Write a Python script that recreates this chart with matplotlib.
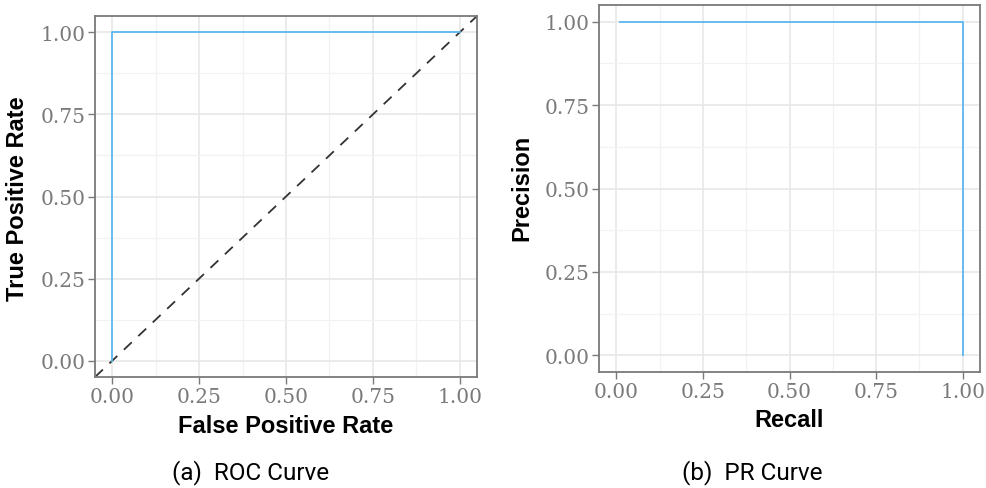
import matplotlib
matplotlib.use("Agg")
import matplotlib.pyplot as plt
import numpy as np

# ---------- Data ----------
fpr = [0.0, 0.0, 1.0]
tpr = [0.0, 1.0, 1.0]

recall = [0.01, 1.0, 1.0]
precision = [1.0, 1.0, 0.0]

ticks = [0.0, 0.25, 0.5, 0.75, 1.0]
tick_labels = ["0.00", "0.25", "0.50", "0.75", "1.00"]
minor_ticks = [0.125, 0.375, 0.625, 0.875]

curve_color = "#5BB8EC"
spine_color = "#7a7a7a"
W, H = 987, 489

fig = plt.figure(figsize=(W / 100, H / 100), dpi=100)


def px_axes(left, top, right, bottom):
    return fig.add_axes([left / W, 1 - bottom / H, (right - left) / W, (bottom - top) / H])


def style_axes(ax):
    ax.set_xlim(-0.05, 1.05)
    ax.set_ylim(-0.05, 1.05)
    ax.set_xticks(ticks)
    ax.set_yticks(ticks)
    ax.set_xticklabels(tick_labels)
    ax.set_yticklabels(tick_labels)
    ax.set_xticks(minor_ticks, minor=True)
    ax.set_yticks(minor_ticks, minor=True)
    ax.grid(True, which="major", color="#e8e8e8", linewidth=1.2)
    ax.grid(True, which="minor", color="#f2f2f2", linewidth=0.9)
    ax.set_axisbelow(True)
    ax.tick_params(which="major", length=5, width=1.0, color=spine_color,
                   labelcolor="#7a7a7a", labelsize=14.5, pad=2)
    ax.tick_params(which="minor", length=0)
    for lab in ax.get_xticklabels() + ax.get_yticklabels():
        lab.set_family("DejaVu Serif")
    for sp in ax.spines.values():
        sp.set_color(spine_color)
        sp.set_linewidth(1.3)


# ---------- ROC ----------
ax1 = px_axes(95, 17, 477, 378)
style_axes(ax1)
ax1.axline((0, 0), (1, 1), color="#333333", linestyle=(0, (6, 5)), linewidth=1.3)
ax1.plot(fpr, tpr, color=curve_color, linewidth=1.3)

# ---------- PR ----------
ax2 = px_axes(599, 6, 980, 373)
style_axes(ax2)
ax2.plot(recall, precision, color=curve_color, linewidth=1.3)

# ---------- Labels ----------
label_font = dict(family=["Liberation Sans", "DejaVu Sans"], fontweight="bold",
                  fontsize=17, color="black")
fig.text(286 / W, 1 - 427 / H, "False Positive Rate", ha="center", va="center", **label_font)
fig.text(18 / W, 1 - 199 / H, "True Positive Rate", ha="center", va="center", rotation=90, **label_font)
fig.text(789 / W, 1 - 421 / H, "Recall", ha="center", va="center", **label_font)
fig.text(522 / W, 1 - 188 / H, "Precision", ha="center", va="center", rotation=90, **label_font)

cap_font = dict(family=["Liberation Sans Narrow", "Roboto", "DejaVu Sans"], fontsize=17.5, color="black")
fig.text(251 / W, 1 - 473 / H, "(a)  ROC Curve", ha="center", va="center", **cap_font)
fig.text(752 / W, 1 - 473 / H, "(b)  PR Curve", ha="center", va="center", **cap_font)

fig.savefig("out.png", dpi=100)
